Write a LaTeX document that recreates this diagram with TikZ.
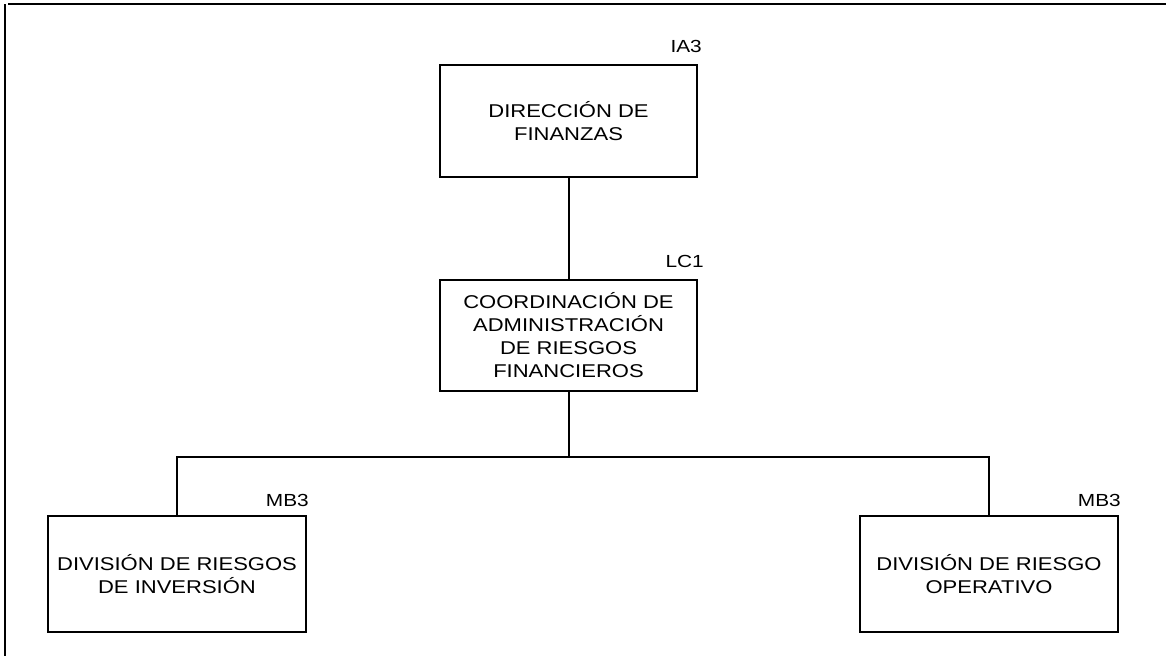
\documentclass[tikz,border=0pt]{standalone}
\usepackage{fontspec}
\setmainfont{Liberation Sans}[FakeStretch=1.19]
\usepackage{tikz}
\usetikzlibrary{positioning,calc}

\begin{document}
\begin{tikzpicture}[
  x=1pt,y=-1pt,
  unit/.style={draw=black,line width=2pt,minimum width=257pt,minimum height=112pt,align=center,inner sep=0pt,font=\fontsize{18.5}{23}\selectfont},
  code/.style={anchor=base east,inner sep=0pt,font=\fontsize{17.5}{20}\selectfont},
  link/.style={line width=2pt},
  frame/.style={line width=2.6pt}
]
\useasboundingbox (0,0) rectangle (1166,656);
\draw[frame] (5,4) -- (5,656);
\draw[frame] (8,4) -- (1166,4);

\node[unit] (dir) at (568.5,121) {DIRECCIÓN DE\\FINANZAS};
\node[unit,minimum height=111pt] (coord) at (568.5,335.5) {COORDINACIÓN DE\\ADMINISTRACIÓN\\DE RIESGOS\\FINANCIEROS};
\node[unit,minimum width=258pt,minimum height=116pt] (inv) at (177,574) {DIVISIÓN DE RIESGOS\\DE INVERSIÓN};
\node[unit,minimum width=258pt,minimum height=116pt] (ope) at (989,574) {DIVISIÓN DE RIESGO\\OPERATIVO};

\node[code] (ia3) at ($(dir.north east)+(4,-12)$) {IA3};
\node[code] (lc1) at ($(coord.north east)+(6,-12)$) {LC1};
\node[code] (mb3a) at ($(inv.north east)+(2,-9)$) {MB3};
\node[code] (mb3b) at ($(ope.north east)+(2,-9)$) {MB3};

\coordinate (bus) at (568.5,457);
\draw[link] (dir) -- (coord);
\draw[link] (coord) -- (bus);
\draw[link] (inv.north) |- (bus) -| (ope.north);
\end{tikzpicture}
\end{document}
